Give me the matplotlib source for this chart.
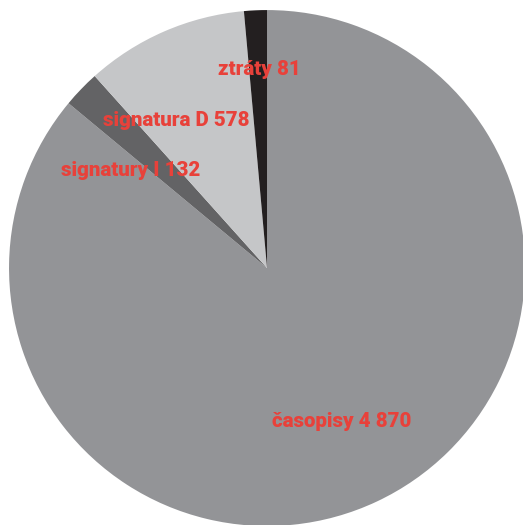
import numpy as np
import matplotlib.pyplot as plt

# data
labels = ["časopisy", "signatury I", "signatura D", "ztráty"]
values = [4870, 132, 578, 81]
value_text = ["4 870", "132", "578", "81"]
colors = ["#939497", "#636365", "#c5c6c8", "#231f20"]

# label placement (radius fraction, angle in degrees)
label_r = [0.66, 0.65, 0.67, 0.77]
label_ang = [-64.0, 144.4, 121.6, 92.3]

fig = plt.figure(figsize=(5.23, 5.25), dpi=100)
ax = fig.add_axes([0, 0, 1, 1])

ax.pie(values, colors=colors, startangle=90, counterclock=False,
       radius=1.0, wedgeprops=dict(linewidth=0))

for lab, vt, r, a in zip(labels, value_text, label_r, label_ang):
    t = np.deg2rad(a)
    ax.text(r * np.cos(t), r * np.sin(t), lab + " " + vt,
            ha="center", va="center", color="#e8413a",
            fontsize=14.8, fontweight=900, family="Roboto")

ax.set_aspect("auto")
ax.set_xlim(-1.035, 0.992)
ax.set_ylim(-0.996, 1.039)
ax.axis("off")

fig.savefig("out.png", dpi=100)
